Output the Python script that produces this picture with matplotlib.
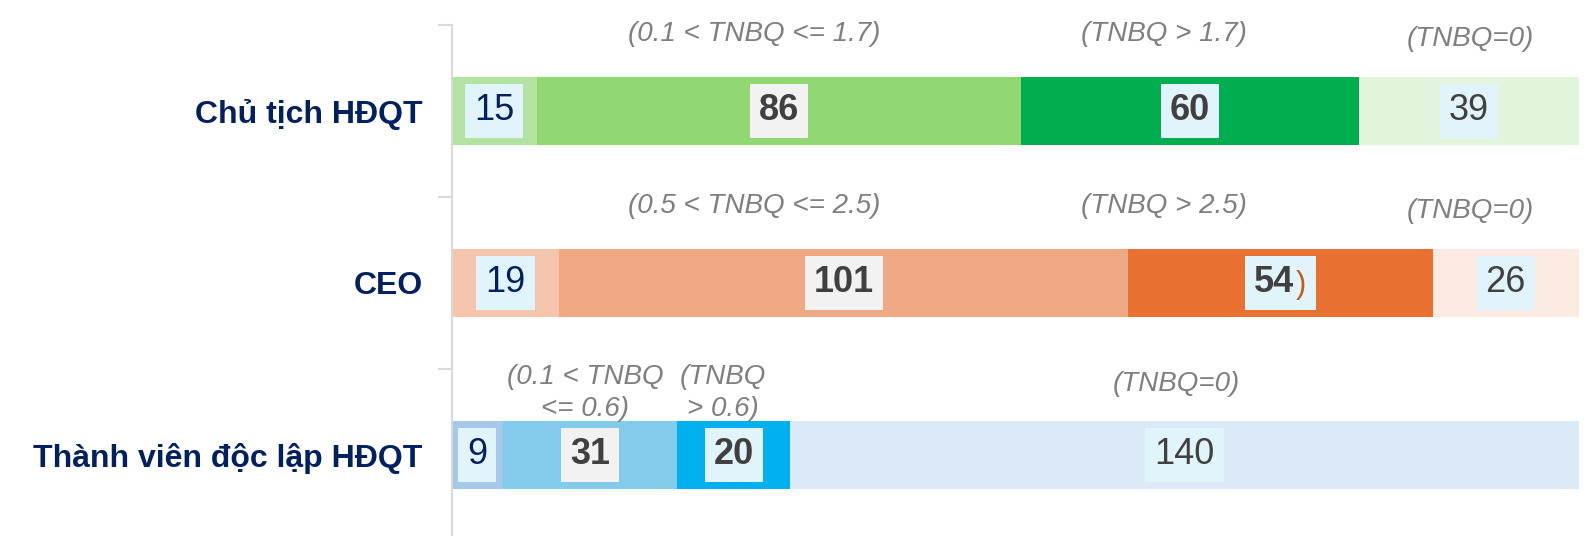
import numpy as np
import matplotlib
matplotlib.use('Agg')
import matplotlib.pyplot as plt

plt.rcParams['font.family'] = ['Liberation Sans', 'DejaVu Sans']

# data
categories = ['Chủ tịch HĐQT', 'CEO', 'Thành viên độc lập HĐQT']
seg1 = [15, 19, 9]      # lowest group
seg2 = [86, 101, 31]    # middle range
seg3 = [60, 54, 20]     # high range
seg4 = [39, 26, 140]    # TNBQ = 0
range_labels = [
    ['(0.1 < TNBQ <= 1.7)', '(TNBQ > 1.7)', '(TNBQ=0)'],
    ['(0.5 < TNBQ <= 2.5)', '(TNBQ > 2.5)', '(TNBQ=0)'],
    ['(0.1 < TNBQ\n<= 0.6)', '(TNBQ\n> 0.6)', '(TNBQ=0)'],
]

# layout for the range labels (x in data units, y offset from bar centre)
label_x = [[53.6, 126.4, 180.7], [53.6, 126.4, 180.7], [23.6, 48.0, 128.5]]
label_dy = [[-0.45, -0.45, -0.42], [-0.45, -0.45, -0.42], [-0.36, -0.36, -0.41]]

colors = [
    ['#b3e3a0', '#92d872', '#00ae4f', '#e2f4dc'],
    ['#f5c6ad', '#f0a985', '#e87132', '#fcebe3'],
    ['#a6c8ea', '#83cbea', '#00b0ef', '#dce9f6'],
]

navy = '#002060'
dark = '#404040'
box_blue = '#e1f4fc'
box_gray = '#f2f2f2'

fig = plt.figure(figsize=(15.87, 5.36), dpi=100)
ax = fig.add_axes([0.2848, 0.0, 0.7102, 0.9534])

y = np.arange(len(categories))
segs = [seg1, seg2, seg3, seg4]
left = np.zeros(len(categories))
for j, s in enumerate(segs):
    s = np.array(s, dtype=float)
    for i in range(len(categories)):
        ax.barh(y[i], s[i], left=left[i], height=0.4, color=colors[i][j], linewidth=0)
        cx = left[i] + s[i] / 2
        bold = j in (1, 2)
        tcol = navy if j == 0 else dark
        bcol = box_gray if j == 1 else box_blue
        txt = str(int(s[i]))
        if i == 1 and j == 2:
            # "54)" with an orange bracket
            full = ax.text(cx, y[i], txt + ')', ha='center', va='center', fontsize=26,
                           fontweight='bold', color=(0, 0, 0, 0),
                           bbox=dict(boxstyle='square,pad=0.25', fc=bcol, ec='none'))
            ax.annotate(txt, xy=(0, 0), xycoords=full, ha='left', va='bottom',
                        fontsize=26, fontweight='bold', color=dark)
            ax.annotate(')', xy=(1, 0), xycoords=full, ha='right', va='bottom',
                        fontsize=22, color='#c55a11')
        else:
            ax.text(cx, y[i], txt, ha='center', va='center', fontsize=26,
                    fontweight='bold' if bold else 'normal', color=tcol,
                    bbox=dict(boxstyle='square,pad=0.25', fc=bcol, ec='none'))
    left += s

for i in range(len(categories)):
    for k in range(3):
        ax.text(label_x[i][k], y[i] + label_dy[i][k], range_labels[i][k],
                ha='center', va='center', fontsize=20, style='italic',
                color='#7f7f7f', linespacing=1.3)

ax.set_xlim(0, 200)
ax.set_ylim(2.471, -0.5)

ax.set_yticks(y)
ax.set_yticklabels(categories, fontsize=23, fontweight='bold', color=navy)
ax.tick_params(axis='y', which='major', length=0, pad=21)
ax.set_yticks([-0.5, 0.5, 1.5], minor=True)
ax.tick_params(axis='y', which='minor', length=10, width=1.5, color='#d9d9d9')
ax.set_xticks([])

for sp in ['top', 'right', 'bottom']:
    ax.spines[sp].set_visible(False)
ax.spines['left'].set_color('#d9d9d9')
ax.spines['left'].set_linewidth(1.5)

plt.savefig('out.png', dpi=100, facecolor='white')
